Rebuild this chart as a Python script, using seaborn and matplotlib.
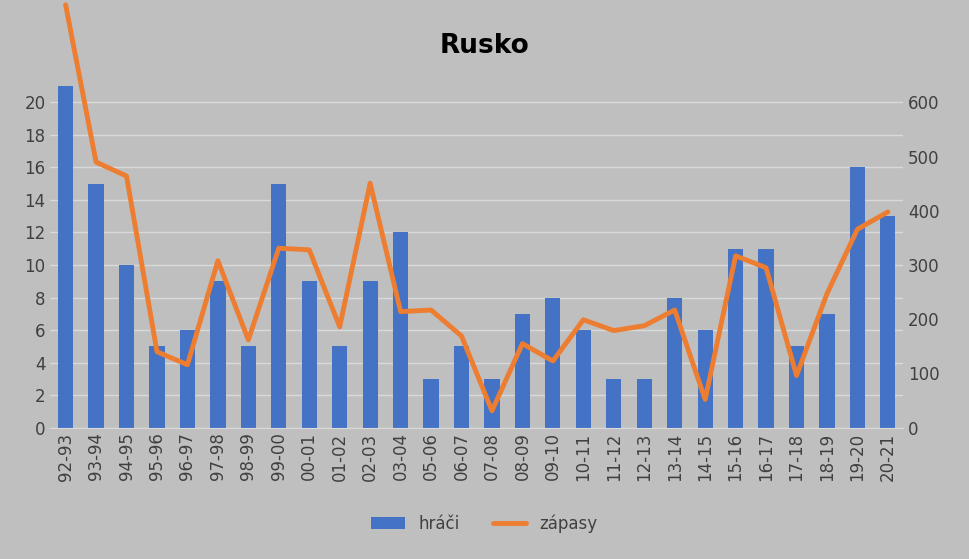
import matplotlib
matplotlib.use("Agg")
import matplotlib.pyplot as plt
import seaborn as sns
import pandas as pd

seasons = ["92-93","93-94","94-95","95-96","96-97","97-98","98-99","99-00","00-01","01-02",
           "02-03","03-04","05-06","06-07","07-08","08-09","09-10","10-11","11-12","12-13",
           "13-14","14-15","15-16","16-17","17-18","18-19","19-20","20-21"]
hraci = [21,15,10,5,6,9,5,15,9,5,9,12,3,5,3,7,8,6,3,3,8,6,11,11,5,7,16,13]
zapasy = [780,490,464,140,116,308,162,331,328,186,451,214,217,169,31,155,123,199,179,188,
          217,52,317,295,96,247,366,398]

df = pd.DataFrame({"season": seasons, "hraci": hraci, "zapasy": zapasy})
bg = "#bfbfbf"
sns.set_style("white")
fig = plt.figure(figsize=(9.69, 5.59), dpi=100, facecolor=bg)
ax = fig.add_axes([0.052, 0.235, 0.88, 0.64])
ax.set_facecolor(bg)
sns.barplot(data=df, x="season", y="hraci", color="#4472c4", width=0.5, ax=ax, label="hráči",
            zorder=2, saturation=1, edgecolor="none", linewidth=0)
ax.set_ylim(0, 22)
ax.set_yticks(range(0, 21, 2))
ax.yaxis.grid(True, color="#d9d9d9", lw=1, zorder=0)
ax.set_axisbelow(True)
ax2 = ax.twinx()
sns.lineplot(x=list(range(len(seasons))), y=zapasy, color="#ed7d31", lw=3.5, ax=ax2, label="zápasy", legend=False)
for ln in ax2.lines:
    ln.set_clip_on(False)
ax2.set_ylim(0, 660)
ax2.set_yticks(range(0, 601, 100))
for a in (ax, ax2):
    for s in a.spines.values():
        s.set_visible(False)
    a.tick_params(length=0, labelsize=12, colors="#404040")
ax.spines["bottom"].set_visible(True)
ax.spines["bottom"].set_color("#d9d9d9")
ax.set_xlabel(""); ax.set_ylabel(""); ax2.set_ylabel("")
ax.set_xlim(-0.5, len(seasons) - 0.5)
plt.setp(ax.get_xticklabels(), rotation=90)
ax2.set_zorder(3)
fig.text(0.5, 0.905, "Rusko", ha="center", fontsize=19, fontweight="bold", color="black")
h1, l1 = ax.get_legend_handles_labels()
h2, l2 = ax2.get_legend_handles_labels()
if ax.get_legend(): ax.get_legend().remove()
fig.legend(h1 + h2, l1 + l2, loc="lower center", bbox_to_anchor=(0.5, 0.02), ncol=2,
           frameon=False, fontsize=12, labelcolor="#404040")
fig.savefig("out.png", dpi=100, facecolor=bg)
